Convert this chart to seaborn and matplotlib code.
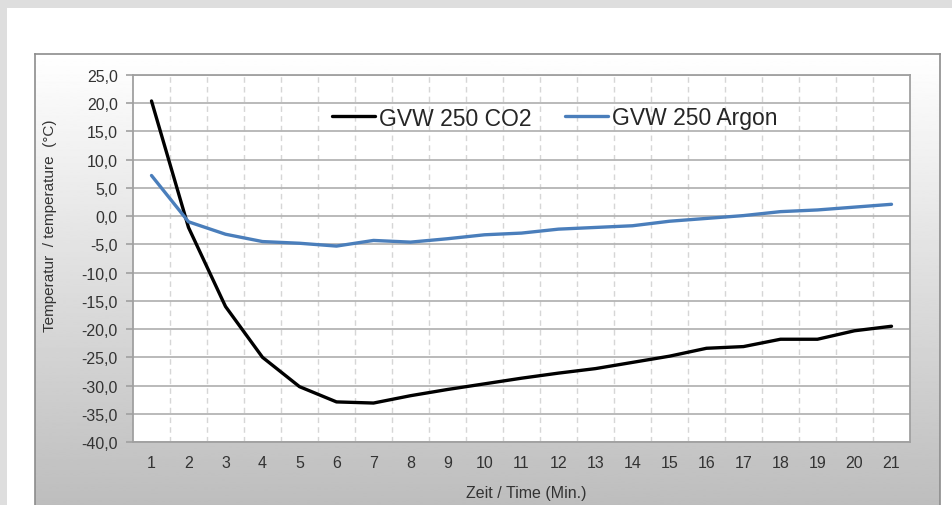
import numpy as np
import pandas as pd
import matplotlib
matplotlib.use('Agg')
import matplotlib.pyplot as plt
import seaborn as sns
from matplotlib.patches import Rectangle
from matplotlib.ticker import MultipleLocator, FuncFormatter

# values
minutes = list(range(1, 22))
co2 = [20.4, -2.0, -16.0, -25.0, -30.2, -32.9, -33.1, -31.8, -30.7, -29.7, -28.7,
       -27.8, -27.0, -25.9, -24.8, -23.4, -23.1, -21.8, -21.8, -20.3, -19.5]
argon = [7.2, -1.0, -3.2, -4.5, -4.8, -5.3, -4.3, -4.6, -4.0, -3.3, -3.0,
         -2.3, -2.0, -1.7, -0.9, -0.4, 0.1, 0.8, 1.1, 1.6, 2.1]
series_names = ['GVW 250 CO2', 'GVW 250 Argon']
colors = {'GVW 250 CO2': 'black', 'GVW 250 Argon': '#4a7ebb'}

sns.set_theme(style='white')
plt.rcParams['font.family'] = ['Liberation Sans', 'DejaVu Sans']

W, H = 952, 506
fig = plt.figure(figsize=(W / 100, H / 100), dpi=100, facecolor='#dedede')

# white page panel
fig.patches.append(Rectangle((7 / W, 0), 1, 1 - 9 / H, transform=fig.transFigure,
                             facecolor='white', edgecolor='none', zorder=-5))

# chart area with grey gradient
bg = fig.add_axes([35 / W, -0.01, (940 - 35) / W, (506 - 55) / H + 0.01], zorder=0)
grad = np.linspace(1.0, 0.74, 256).reshape(-1, 1)
bg.imshow(grad, cmap='gray', vmin=0, vmax=1, aspect='auto', extent=[0, 1, 0, 1],
          origin='upper', interpolation='bilinear')
bg.set_xlim(0, 1)
bg.set_ylim(0, 1)
bg.set_xticks([])
bg.set_yticks([])
for s in bg.spines.values():
    s.set_color('#8c8c8c')
    s.set_linewidth(1.2)

# plot area
ax = fig.add_axes([133 / W, 1 - 443 / H, (910 - 133) / W, (443 - 76) / H], zorder=1)
ax.set_facecolor('white')

df = pd.DataFrame({
    'Minute': minutes * 2,
    'Temp': co2 + argon,
    'Serie': [series_names[0]] * len(co2) + [series_names[1]] * len(argon),
})
sns.lineplot(data=df, x='Minute', y='Temp', hue='Serie', hue_order=series_names,
             palette=colors, ax=ax, linewidth=2.4)

ax.set_xlim(0.5, 21.5)
ax.set_ylim(-40, 25)
ax.set_xticks(minutes)
ax.set_xticks(np.arange(1.5, 21, 1), minor=True)
ax.yaxis.set_major_locator(MultipleLocator(5))
ax.yaxis.set_major_formatter(FuncFormatter(lambda v, p: f'{v:.1f}'.replace('.', ',')))

ax.grid(axis='y', which='major', color='#b4b4b4', lw=1.3)
ax.grid(axis='x', which='minor', color='#d6d6d6', ls=(0, (4, 3)), lw=1)
ax.set_axisbelow(True)

ax.tick_params(axis='x', which='both', length=0, pad=9, labelsize=11.5, colors='#333333')
ax.tick_params(axis='y', which='major', left=True, length=5, width=1.2, color='#a0a0a0',
               pad=6, labelsize=11.5, labelcolor='#333333')
for s in ax.spines.values():
    s.set_color('#a0a0a0')
    s.set_linewidth(1.3)

ax.set_xlabel('')
ax.set_ylabel('')
ax.legend(loc='center', bbox_to_anchor=((555 - 133) / 777, (443 - 119) / 367), ncol=2,
          frameon=False, fontsize=16.5, handlelength=1.85, handletextpad=0.2,
          columnspacing=1.45)

fig.text(526 / W, 1 - 494 / H, 'Zeit / Time (Min.)', ha='center', va='center',
         fontsize=11.5, color='#333333')
fig.text(50 / W, 1 - 226 / H, 'Temperatur  / temperature  (°C)', ha='center', va='center',
         rotation=90, fontsize=11, color='#333333')

fig.savefig('out.png', dpi=100, facecolor=fig.get_facecolor())
